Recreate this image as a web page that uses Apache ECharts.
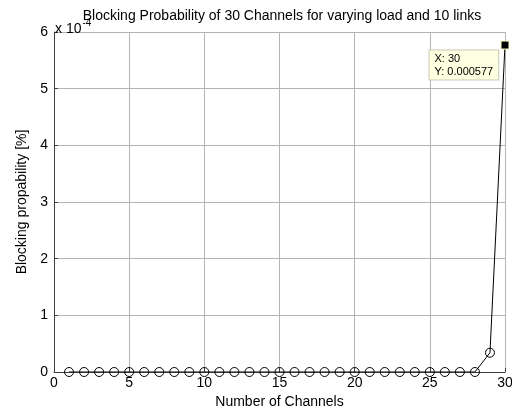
<!DOCTYPE html>
<html>
<head>
<meta charset="utf-8">
<script src="https://cdn.jsdelivr.net/npm/echarts@6/dist/echarts.min.js"></script>
<style>
  html, body { margin: 0; padding: 0; background: #fff; }
  #chart { width: 512px; height: 409px; }
</style>
</head>
<body>
<div id="chart"></div>
<script>
// Number of channels on the x axis
const channels = [1, 2, 3, 4, 5, 6, 7, 8, 9, 10, 11, 12, 13, 14, 15,
                  16, 17, 18, 19, 20, 21, 22, 23, 24, 25, 26, 27, 28, 29, 30];
// Blocking probability (raw values; the axis shows them in units of 1e-4)
const blocking = [0, 0, 0, 0, 0, 0, 0, 0, 0, 0, 0, 0, 0, 0, 0,
                  0, 0, 0, 0, 0, 0, 0, 0, 0, 0, 0, 0, 0, 0.000034, 0.000577];
const xTicks = [0, 5, 10, 15, 20, 25, 30];
const yTicks = [0, 1, 2, 3, 4, 5, 6];
const yScale = 1e-4;
const tipIndex = 29;

const FONT = 'Liberation Sans, Arial, sans-serif';

const seriesData = channels.map((c, i) => {
  const item = { value: [c, blocking[i]] };
  if (i === tipIndex) {
    item.symbol = 'rect';
    item.symbolSize = 8;
    item.itemStyle = { color: '#000', borderColor: '#ffffc8', borderWidth: 1 };
    item.label = {
      show: true,
      position: [-71, 10],
      align: 'left',
      verticalAlign: 'top',
      formatter: p => 'X: ' + p.value[0] + '\nY: ' + p.value[1],
      fontFamily: FONT,
      fontSize: 11,
      lineHeight: 13,
      color: '#000',
      backgroundColor: '#ffffe1',
      borderColor: '#c8c8b4',
      borderWidth: 1,
      padding: [2, 5, 1, 5]
    };
  }
  return item;
});

const chart = echarts.init(document.getElementById('chart'), null, { renderer: 'canvas' });
chart.setOption({
  animation: false,
  backgroundColor: '#fff',
  title: [{
    text: '{b|x 10}{s|-4}',
    left: 50, top: 13,
    textStyle: {
      rich: {
        b: { fontFamily: FONT, fontSize: 14, fontWeight: 'normal', color: '#000', verticalAlign: 'bottom' },
        s: { fontFamily: FONT, fontSize: 10, fontWeight: 'normal', color: '#000', verticalAlign: 'top', padding: [0, 0, 8, 1] }
      }
    }
  }, {
    text: 'Blocking Probability of 30 Channels for varying load and 10 links',
    left: 277, top: 4, textAlign: 'center',
    textStyle: { fontFamily: FONT, fontSize: 14, fontWeight: 'normal', color: '#000' }
  }],
  grid: { left: 54, right: 7, top: 32, bottom: 37, containLabel: false, outerBoundsMode: 'none' },
  xAxis: {
    type: 'value', min: 0, max: 30, interval: 5,
    name: 'Number of Channels', nameLocation: 'middle', nameGap: 22,
    nameTextStyle: { fontFamily: FONT, fontSize: 14, color: '#000' },
    axisLine: { show: true, lineStyle: { color: '#404040', width: 1 } },
    axisTick: { show: true, inside: true, length: 4, lineStyle: { color: '#404040' } },
    axisLabel: {
      fontFamily: FONT, fontSize: 14, color: '#000', margin: 4,
      formatter: v => (xTicks.indexOf(v) >= 0 ? String(v) : '')
    },
    splitLine: { show: true, lineStyle: { color: '#b4b4b4', width: 1 } }
  },
  yAxis: {
    type: 'value', min: 0, max: 6 * yScale, interval: yScale,
    name: 'Blocking propability [%]', nameLocation: 'middle', nameGap: 20,
    nameTextStyle: { fontFamily: FONT, fontSize: 14, color: '#000' },
    axisLine: { show: true, lineStyle: { color: '#404040', width: 1 } },
    axisTick: { show: true, inside: true, length: 4, lineStyle: { color: '#404040' } },
    axisLabel: {
      fontFamily: FONT, fontSize: 14, color: '#000', margin: 6,
      formatter: v => {
        const k = Math.round(v / yScale);
        return yTicks.indexOf(k) >= 0 ? String(k) : '';
      }
    },
    splitLine: { show: true, lineStyle: { color: '#b4b4b4', width: 1 } }
  },
  series: [{
    type: 'line',
    data: seriesData,
    symbol: 'circle',
    symbolSize: 9,
    showAllSymbol: true,
    lineStyle: { color: '#000', width: 1 },
    itemStyle: { color: 'rgba(0,0,0,0)', borderColor: '#000', borderWidth: 1 },
    emphasis: { disabled: true },
    z: 3
  }]
});
</script>
</body>
</html>
